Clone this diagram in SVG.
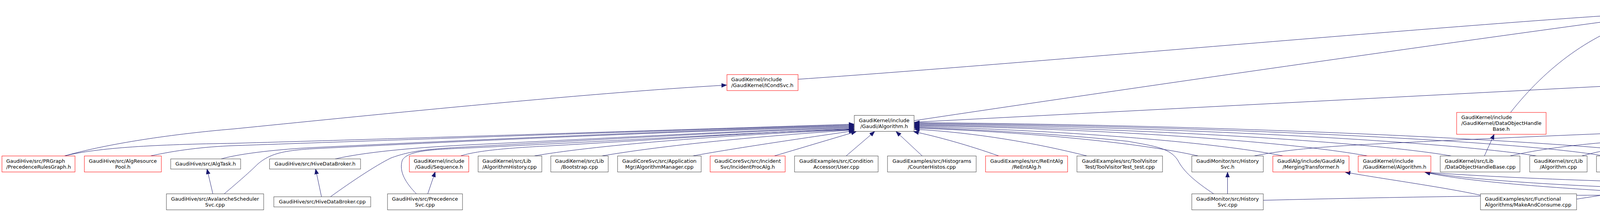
<svg xmlns="http://www.w3.org/2000/svg" width="7086" height="543" viewBox="0 0 7086 543">
<style>
.e{fill:none;stroke:#191970;stroke-width:1;marker-end:url(#ah)}
.n rect{fill:#fff;stroke:#404040;stroke-width:1}
.r rect{stroke:#ff0000}
.g rect{fill:#bfbfbf}
text{font-family:"DejaVu Sans","Liberation Sans",sans-serif;font-size:12.9px;fill:#000}
.m{text-anchor:middle}
</style>
<defs>
<marker id="ah" markerUnits="userSpaceOnUse" markerWidth="14" markerHeight="11" refX="13" refY="5.5" orient="auto" viewBox="0 0 14 11"><path d="M0,0.5 L13,5.5 L0,10.5 z" fill="#191970" stroke="#191970"/></marker>
</defs>
<rect width="7086" height="543" fill="#fff"/>
<g id="edges">
<path class="e" d="M165,399.5 C260,372 420,345 600,330 C900,300 1500,238 1860,218"/>
<path class="e" d="M2043,203 C2600,165 3700,65 4208,34"/>
<path class="e" d="M2340,309 C2900,225 3700,110 4208,42"/>
<path class="e" d="M3867,288 C3960,170 4075,85 4211,46"/>
<path class="e" d="M4153,399.5 C4120,330 4105,250 4130,190 C4160,120 4230,70 4264,47"/>
<path class="e" d="M4266,183.5 L4300,47"/>
<path class="e" d="M4689,304 C4540,275 4430,220 4375,170 C4330,125 4314,90 4311,47"/>
<path class="e" d="M4432,95 L4352,47"/>
<path class="e" d="M4590,191 C4625,150 4625,110 4590,88 C4540,62 4470,47 4410,37"/>
<path class="e" d="M4760,191 C4700,130 4560,70 4410,41"/>
<path class="e" d="M4716,98 L4410,44"/>
<path class="e" d="M4939,95 L4410,33"/>
<path class="e" d="M4317,183.5 L4421,136"/>
<path class="e" d="M4689,301 C4580,282 4505,258 4482,222 C4468,195 4466,165 4466,136"/>
<path class="e" d="M4551,191 L4497,136"/>
<path class="e" d="M4716,191 L4545,136"/>
<path class="e" d="M2340,313 L4143,219"/>
<path class="e" d="M4689,299 L4375,238"/>
<path class="e" d="M3800,399.5 L3825,344"/>
<path class="e" d="M165,399.5 C250,378 400,370 600,367 C1200,350 1800,330 2186,318"/>
<path class="e" d="M385,399.5 C450,385 520,376 600,373 C1200,352 1800,331 2186,320"/>
<path class="e" d="M566,407 C620,392 720,382 800,378 C1300,354 1800,332 2186,322"/>
<path class="e" d="M574,496.5 C610,466 640,440 660,420 C690,395 720,386 800,381 C1300,356 1800,334 2186,324"/>
<path class="e" d="M545,496.5 L530,433"/>
<path class="e" d="M858,407 C950,386 1100,376 1200,371 C1600,352 1900,334 2186,326"/>
<path class="e" d="M823,504 L808,433"/>
<path class="e" d="M846,504 C900,465 960,425 1000,405 C1050,386 1100,381 1200,376 C1600,354 1900,336 2186,328"/>
<path class="e" d="M1179,399.5 C1220,386 1300,379 1400,374 C1700,357 1950,338 2186,330"/>
<path class="e" d="M1095,496.5 L1114,440.5"/>
<path class="e" d="M1066,496.5 C1040,470 1020,440 1030,410 C1045,386 1100,383 1200,379 C1600,360 1900,340 2186,331"/>
<path class="e" d="M1367,399.5 C1500,376 1800,348 2186,332"/>
<path class="e" d="M1540,399.5 C1700,372 1950,348 2186,333"/>
<path class="e" d="M1773,399.5 C1850,385 2000,362 2186,335"/>
<path class="e" d="M1982,399.5 L2192,337"/>
<path class="e" d="M2166,399.5 L2239,337"/>
<path class="e" d="M2361,399.5 L2294,337"/>
<path class="e" d="M2557,399.5 C2480,372 2400,350 2339,337"/>
<path class="e" d="M2783,399.5 C2650,366 2500,340 2341,331"/>
<path class="e" d="M3068,399.5 C2900,362 2600,337 2341,328"/>
<path class="e" d="M3107,496.5 C3060,465 3030,440 3015,410 C2995,380 2960,375 2888,362 C2700,342 2500,332 2341,326"/>
<path class="e" d="M3285,399.5 C3100,362 2700,333 2341,324"/>
<path class="e" d="M3501,399.5 C3300,362 2800,328 2341,322"/>
<path class="e" d="M3716,399.5 C3500,362 2900,327 2341,320"/>
<path class="e" d="M3934,399.5 C3700,362 3000,324 2341,318"/>
<path class="e" d="M4106,399.5 C3900,362 3100,322 2341,316"/>
<path class="e" d="M4283,399.5 C4100,366 3200,320 2341,314"/>
<path class="e" d="M3142.5,496.5 L3142.5,441"/>
<path class="e" d="M3210,399.5 C3330,375 3500,370 3700,360 C4000,346 4400,330 4687,320"/>
<path class="e" d="M3865,399.5 C3950,380 4050,368 4200,358 C4400,345 4550,332 4687,322"/>
<path class="e" d="M4049,399.5 C4090,388 4120,382 4200,375 C4400,358 4550,338 4687,324"/>
<path class="e" d="M4222,399.5 C4350,370 4500,345 4687,326"/>
<path class="e" d="M4398,399.5 C4500,372 4600,345 4687,330"/>
<path class="e" d="M3234,513 C3600,504 3900,500 4130,500 C4350,498 4450,470 4474,450 C4490,430 4495,412 4513,398 C4560,360 4620,335 4687,331"/>
<path class="e" d="M4036,510 C4100,500 4200,484 4300,476 C4380,470 4410,460 4417,450 C4430,425 4440,410 4455,398 C4520,355 4620,336 4687,333"/>
<path class="e" d="M3790,500 C3700,480 3520,455 3444,441"/>
<path class="e" d="M4590,512 C4300,500 3800,478 3648,441"/>
<path class="e" d="M5227,512 C4700,492 3950,490 3648,441"/>
<path class="e" d="M5625,507 C5300,480 4200,482 3648,441"/>
<path class="e" d="M5390,399.5 C5250,368 5050,338 4859,326"/>
<path class="e" d="M5620,394 C5420,362 5150,335 4859,323"/>
<path class="e" d="M5975,399.5 C5800,372 5300,335 4859,320"/>
<path class="e" d="M6214,399.5 C6050,370 5500,330 4859,317"/>
<path class="e" d="M6434,399.5 C6200,366 5600,325 4859,314"/>
<path class="e" d="M6662,399.5 C6450,370 5700,320 4859,311"/>
<path class="e" d="M6890,399.5 C6600,365 5800,315 4859,308"/>
<path class="e" d="M5422,510 C5600,490 5800,470 5835,450 C5855,430 5855,400 5830,388 C5600,350 5200,332 4859,329"/>
<path class="e" d="M5802,496.5 C5850,470 5880,430 5860,400 C5830,375 5500,345 4859,327"/>
<path class="e" d="M5164,399.5 L4859,333"/>
<path class="e" d="M4808,504 C4950,480 5100,452 5160,441"/>
<path class="e" d="M4721,504 C4726,440 4740,380 4761,337"/>
<path class="e" d="M4818,399.5 L4789,337"/>
<path class="e" d="M4974,399.5 L4829,337"/>
<path class="e" d="M4641,399.5 L4733,337"/>
</g>
<g id="n0" class="n g"><rect x="4209" y="5" width="200" height="41"/><text x="4221" y="22">GaudiKernel/include</text><text x="4221" y="37">/GaudiKernel/DataHandle.h</text></g>
<g id="n1" class="n r"><rect x="4347" y="95" width="244" height="41"/><text x="4358" y="112">GaudiKernel/include</text><text x="4358" y="127">/GaudiKernel/IDataHandleHolder.h</text></g>
<g id="n2" class="n r"><rect x="4716" y="95" width="199" height="41"/><text x="4727" y="112">GaudiKernel/include</text><text x="4727" y="127">/GaudiKernel/PropertyMgr.h</text></g>
<g id="n3" class="n"><rect x="4939" y="95" width="183" height="41"/><text x="4950" y="112">GaudiKernel/src/Lib</text><text x="4950" y="127">/DataHandleProperty.cpp</text></g>
<g id="n4" class="n"><rect x="4144" y="183.5" width="229" height="56"/><text x="4155" y="200.5">GaudiKernel/include</text><text x="4155" y="215.5">/GaudiKernel/DataHandleHolder</text><text class="m" x="4258" y="230.5">Base.h</text></g>
<g id="n5" class="n"><rect x="4502" y="191" width="147" height="41"/><text class="m" x="4575.5" y="208">GaudiKernel/src/Lib</text><text class="m" x="4575.5" y="223">/DataHandle.cpp</text></g>
<g id="n6" class="n"><rect x="4674" y="191" width="214" height="41"/><text x="4685" y="208">GaudiKernel/src/Lib</text><text x="4685" y="223">/DataHandleHolderVisitor.cpp</text></g>
<g id="n7" class="n r"><rect x="1861" y="191" width="182" height="41"/><text x="1872" y="208">GaudiKernel/include</text><text x="1872" y="223">/GaudiKernel/ICondSvc.h</text></g>
<g id="n8" class="n"><rect x="2187" y="295.5" width="153" height="41"/><text class="m" x="2263.5" y="312.5">GaudiKernel/include</text><text class="m" x="2263.5" y="327.5">/Gaudi/Algorithm.h</text></g>
<g id="n9" class="n r"><rect x="3729" y="288" width="229" height="56"/><text x="3741" y="305">GaudiKernel/include</text><text x="3741" y="320">/GaudiKernel/DataObjectHandle</text><text class="m" x="3843" y="335">Base.h</text></g>
<g id="n10" class="n"><rect x="4689" y="295.5" width="168" height="41"/><text x="4700" y="312.5">GaudiKernel/include</text><text x="4700" y="327.5">/GaudiKernel/AlgTool.h</text></g>
<g id="n11" class="n r"><rect x="5" y="399.5" width="187" height="41"/><text x="16" y="416.5">GaudiHive/src/PRGraph</text><text x="16" y="431.5">/PrecedenceRulesGraph.h</text></g>
<g id="n12" class="n r"><rect x="216" y="399.5" width="197" height="41"/><text class="m" x="314.5" y="416.5">GaudiHive/src/AlgResource</text><text class="m" x="314.5" y="431.5">Pool.h</text></g>
<g id="n13" class="n"><rect x="437" y="407" width="179" height="26"/><text class="m" x="526.5" y="424">GaudiHive/src/AlgTask.h</text></g>
<g id="n14" class="n"><rect x="690" y="407" width="233" height="26"/><text class="m" x="806.5" y="424">GaudiHive/src/HiveDataBroker.h</text></g>
<g id="n15" class="n r"><rect x="1048" y="399.5" width="152" height="41"/><text class="m" x="1124" y="416.5">GaudiKernel/include</text><text class="m" x="1124" y="431.5">/Gaudi/Sequence.h</text></g>
<g id="n16" class="n"><rect x="1224" y="399.5" width="163" height="41"/><text x="1235" y="416.5">GaudiKernel/src/Lib</text><text x="1235" y="431.5">/AlgorithmHistory.cpp</text></g>
<g id="n17" class="n"><rect x="1410" y="399.5" width="147" height="41"/><text class="m" x="1483.5" y="416.5">GaudiKernel/src/Lib</text><text class="m" x="1483.5" y="431.5">/Bootstrap.cpp</text></g>
<g id="n18" class="n"><rect x="1581" y="399.5" width="214" height="41"/><text class="m" x="1688" y="416.5">GaudiCoreSvc/src/Application</text><text class="m" x="1688" y="431.5">Mgr/AlgorithmManager.cpp</text></g>
<g id="n19" class="n r"><rect x="1818" y="399.5" width="192" height="41"/><text class="m" x="1914" y="416.5">GaudiCoreSvc/src/Incident</text><text class="m" x="1914" y="431.5">Svc/IncidentProcAlg.h</text></g>
<g id="n20" class="n"><rect x="2034" y="399.5" width="214" height="41"/><text class="m" x="2141" y="416.5">GaudiExamples/src/Condition</text><text class="m" x="2141" y="431.5">Accessor/User.cpp</text></g>
<g id="n21" class="n"><rect x="2272" y="399.5" width="227" height="41"/><text class="m" x="2385.5" y="416.5">GaudiExamples/src/Histograms</text><text class="m" x="2385.5" y="431.5">/CounterHistos.cpp</text></g>
<g id="n22" class="n r"><rect x="2523" y="399.5" width="210" height="41"/><text class="m" x="2628" y="416.5">GaudiExamples/src/ReEntAlg</text><text class="m" x="2628" y="431.5">/ReEntAlg.h</text></g>
<g id="n23" class="n"><rect x="2757" y="399.5" width="219" height="41"/><text class="m" x="2866.5" y="416.5">GaudiExamples/src/ToolVisitor</text><text class="m" x="2866.5" y="431.5">Test/ToolVisitorTest_test.cpp</text></g>
<g id="n24" class="n"><rect x="3051" y="399.5" width="183" height="41"/><text class="m" x="3142.5" y="416.5">GaudiMonitor/src/History</text><text class="m" x="3142.5" y="431.5">Svc.h</text></g>
<g id="n25" class="n r"><rect x="3258.5" y="399.5" width="195" height="41"/><text class="m" x="3356" y="416.5">GaudiAlg/include/GaudiAlg</text><text class="m" x="3356" y="431.5">/MergingTransformer.h</text></g>
<g id="n26" class="n r"><rect x="3477" y="399.5" width="186" height="41"/><text x="3489" y="416.5">GaudiKernel/include</text><text x="3489" y="431.5">/GaudiKernel/Algorithm.h</text></g>
<g id="n27" class="n"><rect x="3687" y="399.5" width="204" height="41"/><text x="3698.5" y="416.5">GaudiKernel/src/Lib</text><text x="3698.5" y="431.5">/DataObjectHandleBase.cpp</text></g>
<g id="n28" class="n"><rect x="3916" y="399.5" width="147" height="41"/><text class="m" x="3989.5" y="416.5">GaudiKernel/src/Lib</text><text class="m" x="3989.5" y="431.5">/Algorithm.cpp</text></g>
<g id="n29" class="n"><rect x="4087" y="399.5" width="151" height="41"/><text class="m" x="4162.5" y="416.5">GaudiKernel/src/Util</text><text class="m" x="4162.5" y="431.5">/genconf.cpp</text></g>
<g id="n30" class="n"><rect x="4262" y="399.5" width="148" height="41"/><text class="m" x="4336" y="416.5">GaudiKernel/src/Lib</text><text class="m" x="4336" y="431.5">/AlgTool.cpp</text></g>
<g id="n31" class="n"><rect x="4534.5" y="399.5" width="147" height="41"/><text class="m" x="4608" y="416.5">GaudiKernel/src/Lib</text><text class="m" x="4608" y="431.5">/AlgToolHistory.cpp</text></g>
<g id="n32" class="n"><rect x="4756" y="399.5" width="147" height="41"/><text class="m" x="4829.5" y="416.5">GaudiKernel/src/Lib</text><text class="m" x="4829.5" y="431.5">/ToolVisitor.cpp</text></g>
<g id="n33" class="n"><rect x="4927" y="399.5" width="191" height="41"/><text class="m" x="5022.5" y="416.5">GaudiUtils/src/component</text><text class="m" x="5022.5" y="431.5">/FileReadTool.cpp</text></g>
<g id="n34" class="n r"><rect x="5142.5" y="399.5" width="195" height="41"/><text class="m" x="5240" y="416.5">GaudiAlg/include/GaudiAlg</text><text class="m" x="5240" y="431.5">/GaudiTool.h</text></g>
<g id="n35" class="n"><rect x="5361" y="399.5" width="235" height="41"/><text x="5372.5" y="416.5">GaudiCommonSvc/src</text><text x="5372.5" y="431.5">/DataSvc/PartitionSwitchTool.cpp</text></g>
<g id="n36" class="n"><rect x="5620" y="392" width="205" height="56"/><text x="5631" y="409">GaudiCommonSvc/src</text><text x="5631" y="424">/PersistencySvc/DataSvcFile</text><text class="m" x="5722.5" y="439">EntriesTool.cpp</text></g>
<g id="n37" class="n"><rect x="5950.5" y="399.5" width="213.5" height="41"/><text class="m" x="6057" y="416.5">GaudiCoreSvc/src/Application</text><text class="m" x="6057" y="431.5">Mgr/ToolSvc.cpp</text></g>
<g id="n38" class="n r"><rect x="6188" y="399.5" width="192" height="41"/><text class="m" x="6284" y="416.5">GaudiCoreSvc/src/Incident</text><text class="m" x="6284" y="431.5">Svc/DODBasicMapper.h</text></g>
<g id="n39" class="n r"><rect x="6404" y="399.5" width="206.5" height="41"/><text class="m" x="6507" y="416.5">GaudiExamples/src/AlgTools</text><text class="m" x="6507" y="431.5">/MyTool.h</text></g>
<g id="n40" class="n"><rect x="6634" y="399.5" width="199" height="41"/><text x="6645.5" y="416.5">GaudiExamples/src/bug</text><text x="6645.5" y="431.5">_34121/bug34121_Tool.cpp</text></g>
<g id="n41" class="n r"><rect x="6857" y="399.5" width="224" height="41"/><text x="6868.5" y="416.5">GaudiKernel/include</text><text x="6868.5" y="431.5">/GaudiKernel/DataStreamTool.h</text></g>
<g id="n42" class="n"><rect x="426" y="496.5" width="249" height="41"/><text class="m" x="550.5" y="513.5">GaudiHive/src/AvalancheScheduler</text><text class="m" x="550.5" y="528.5">Svc.cpp</text></g>
<g id="n43" class="n"><rect x="701" y="504" width="248" height="26"/><text class="m" x="825" y="521">GaudiHive/src/HiveDataBroker.cpp</text></g>
<g id="n44" class="n"><rect x="992" y="496.5" width="192" height="41"/><text class="m" x="1088" y="513.5">GaudiHive/src/Precedence</text><text class="m" x="1088" y="528.5">Svc.cpp</text></g>
<g id="n45" class="n"><rect x="3051" y="496.5" width="183" height="41"/><text class="m" x="3142.5" y="513.5">GaudiMonitor/src/History</text><text class="m" x="3142.5" y="528.5">Svc.cpp</text></g>
<g id="n46" class="n"><rect x="3790" y="496.5" width="246" height="41"/><text x="3801.5" y="513.5">GaudiExamples/src/Functional</text><text x="3801.5" y="528.5">Algorithms/MakeAndConsume.cpp</text></g>
<g id="n47" class="n r"><rect x="4590" y="504" width="256" height="26"/><text class="m" x="4718" y="521">GaudiAlg/src/lib/GaudiCommon.icpp</text></g>
<g id="n48" class="n r"><rect x="5227.5" y="496.5" width="195" height="41"/><text class="m" x="5325" y="513.5">GaudiAlg/include/GaudiAlg</text><text class="m" x="5325" y="528.5">/FixTESPath.h</text></g>
<g id="n49" class="n"><rect x="5625" y="496.5" width="218.5" height="41"/><text class="m" x="5734" y="513.5">GaudiExamples/src/ToolVisitor</text><text class="m" x="5734" y="528.5">Test/ToolVisitorTestLib.cpp</text></g>
</svg>
